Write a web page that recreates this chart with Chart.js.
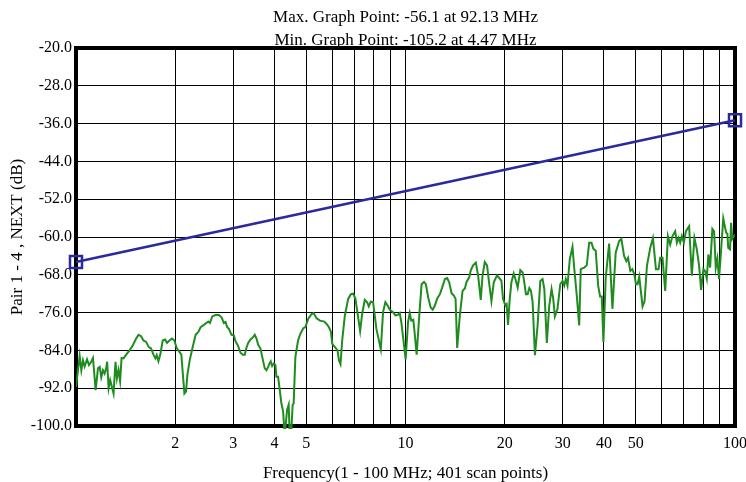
<!DOCTYPE html>
<html>
<head>
<meta charset="utf-8">
<script src="https://cdn.jsdelivr.net/npm/chart.js@4.4.1/dist/chart.umd.min.js"></script>
<style>
  body { margin: 0; background: #ffffff; }
  #plot { display: block; }
</style>
</head>
<body>
<canvas id="plot" width="746" height="482"></canvas>
<script>
const titleLines = [
  "Max. Graph Point: -56.1 at 92.13 MHz",
  "Min. Graph Point: -105.2 at 4.47 MHz",
];
const xTitle = "Frequency(1 - 100 MHz; 401 scan points)";
const yTitle = "Pair 1 - 4 , NEXT (dB)";

// Grid positions on the log axis and which of them get a label
const freqGrid = [1, 2, 3, 4, 5, 6, 7, 8, 9, 10, 20, 30, 40, 50, 60, 70, 80, 90, 100];
const freqLabels = [2, 3, 4, 5, 10, 20, 30, 40, 50, 100];

// Limit line (blue)
const limitFreq = [1, 100];
const limitDb = [-65.3, -35.3];

const measFreq = [
  1.0, 1.026, 1.038, 1.050, 1.062, 1.080, 1.095, 1.112, 1.126, 1.147,
  1.166, 1.180, 1.193, 1.207, 1.221, 1.235, 1.243, 1.256, 1.270, 1.285,
  1.300, 1.318, 1.331, 1.346, 1.361, 1.375, 1.394, 1.420, 1.454, 1.488,
  1.522, 1.548, 1.576, 1.602, 1.632, 1.663, 1.690, 1.718, 1.742, 1.758,
  1.779, 1.804, 1.833, 1.863, 1.889, 1.921, 1.956, 1.989, 2.021, 2.060,
  2.088, 2.107, 2.133, 2.157, 2.178, 2.213, 2.255, 2.307, 2.351, 2.389,
  2.444, 2.486, 2.520, 2.549, 2.592, 2.652, 2.714, 2.766, 2.810, 2.844,
  2.877, 2.909, 2.965, 3.013, 3.049, 3.098, 3.157, 3.208, 3.253, 3.285,
  3.331, 3.385, 3.450, 3.488, 3.530, 3.572, 3.630, 3.688, 3.740, 3.784,
  3.830, 3.864, 3.899, 3.938, 3.981, 4.028, 4.057, 4.105, 4.142, 4.201,
  4.251, 4.299, 4.371, 4.420, 4.47, 4.545, 4.577, 4.632, 4.719, 4.795,
  4.897, 4.965, 5.070, 5.188, 5.260, 5.372, 5.501, 5.669, 5.761, 5.857,
  5.940, 5.994, 6.107, 6.218, 6.280, 6.349, 6.425, 6.546, 6.699, 6.826,
  6.936, 7.048, 7.183, 7.283, 7.385, 7.525, 7.646, 7.738, 7.846, 7.973,
  8.159, 8.414, 8.549, 8.688, 8.809, 8.959, 9.167, 9.314, 9.472, 9.605,
  9.712, 9.896, 10.01, 10.18, 10.30, 10.41, 10.56, 10.65, 10.81, 11.01,
  11.19, 11.38, 11.53, 11.72, 11.92, 12.09, 12.28, 12.48, 12.72, 12.92,
  13.17, 13.38, 13.57, 13.80, 14.02, 14.19, 14.35, 14.62, 14.90, 15.14,
  15.32, 15.60, 15.79, 16.04, 16.35, 16.61, 16.92, 17.13, 17.40, 17.68,
  17.93, 18.23, 18.53, 18.96, 19.32, 19.55, 19.77, 20.10, 20.28, 20.47,
  20.72, 20.96, 21.30, 21.60, 21.90, 22.31, 22.68, 22.94, 23.20, 23.48,
  23.76, 24.03, 24.31, 24.71, 25.17, 25.65, 26.06, 26.38, 26.85, 27.31,
  27.75, 28.08, 28.40, 28.93, 29.49, 29.96, 30.32, 30.65, 31.02, 31.52,
  32.12, 32.51, 33.10, 33.66, 34.03, 34.85, 35.49, 36.09, 36.67, 37.18,
  37.79, 38.43, 38.96, 39.41, 39.87, 40.52, 41.49, 42.46, 43.44, 44.48,
  45.20, 46.06, 46.80, 47.36, 48.12, 48.80, 49.48, 50.06, 50.62, 51.22,
  52.41, 53.15, 54.04, 55.30, 56.36, 57.55, 58.61, 59.30, 60.26, 61.40,
  62.57, 63.58, 64.61, 65.84, 66.62, 67.36, 68.17, 68.98, 69.95, 70.93,
  72.58, 73.96, 75.30, 76.57, 77.82, 78.91, 80.18, 81.13, 82.11, 83.02,
  84.02, 85.37, 86.40, 87.42, 88.41, 89.46, 92.13, 93.3, 94.0, 94.8,
  95.4, 96.6, 97.3, 98.1, 99.5, 100,
];
const measDb = [
  -91.7, -85.2, -88.2, -86.1, -87.4, -85.9, -87.1, -86.4, -85.6, -92.4,
  -87.8, -87.5, -89.7, -88.2, -88.9, -87.8, -86.4, -92.0, -90.3, -91.7,
  -93.1, -86.4, -89.9, -88.2, -90.5, -85.6, -85.7, -84.9, -84.0, -82.9,
  -81.5, -80.7, -81.0, -81.9, -82.2, -83.3, -83.6, -84.9, -85.7, -85.0,
  -86.3, -84.7, -81.9, -81.7, -82.4, -81.9, -81.5, -81.9, -83.5, -84.3,
  -84.9, -88.5, -93.1, -92.7, -89.2, -86.1, -83.6, -80.7, -80.1, -79.1,
  -78.6, -78.2, -77.9, -78.2, -76.8, -76.5, -76.5, -77.0, -78.2, -78.0,
  -79.1, -79.4, -80.7, -80.8, -82.1, -82.9, -84.5, -84.9, -84.9, -83.6,
  -82.4, -81.7, -81.2, -80.7, -81.5, -82.8, -83.6, -85.9, -87.8, -88.2,
  -87.5, -86.8, -86.3, -87.3, -86.8, -87.1, -89.6, -89.6, -91.7, -95.2,
  -96.9, -102.0, -96.6, -95.5, -105.2, -95.5, -95.2, -85.4, -81.9, -80.5,
  -79.3, -79.1, -77.3, -76.3, -76.1, -77.2, -77.7, -77.9, -78.4, -79.1,
  -80.1, -82.6, -83.3, -84.0, -86.1, -86.9, -81.9, -76.6, -73.1, -72.1,
  -72.0, -73.1, -77.0, -79.9, -76.3, -73.3, -73.8, -74.7, -73.7, -73.8,
  -79.4, -83.8, -75.9, -73.8, -74.4, -75.4, -75.9, -76.6, -76.5, -76.1,
  -78.0, -82.9, -85.9, -78.0, -76.1, -77.7, -77.5, -80.0, -84.9, -76.6,
  -70.0, -69.5, -70.0, -72.8, -74.9, -75.4, -74.5, -73.0, -72.1, -70.7,
  -68.9, -68.7, -69.6, -71.9, -72.4, -73.1, -83.5, -76.6, -71.4, -70.9,
  -69.5, -68.6, -67.0, -66.0, -65.4, -68.1, -73.3, -68.2, -65.3, -66.0,
  -69.6, -73.6, -69.6, -68.1, -68.8, -69.3, -73.1, -74.5, -74.2, -78.6,
  -73.1, -69.6, -67.7, -69.1, -70.7, -67.0, -67.5, -69.6, -72.1, -72.1,
  -70.8, -71.4, -73.8, -85.0, -78.7, -69.3, -68.9, -71.0, -82.4, -74.5,
  -71.0, -73.1, -76.8, -75.2, -70.0, -69.3, -70.3, -68.9, -70.3, -64.7,
  -62.1, -66.5, -72.4, -78.7, -66.8, -66.5, -66.0, -61.2, -61.2, -62.5,
  -62.9, -70.3, -72.6, -72.6, -82.2, -68.6, -61.4, -75.2, -63.3, -60.9,
  -60.4, -64.0, -65.1, -64.4, -67.2, -66.8, -67.9, -70.0, -70.0, -68.4,
  -74.7, -73.6, -66.1, -62.3, -60.2, -66.8, -66.8, -64.4, -64.4, -71.4,
  -59.8, -61.6, -59.8, -58.8, -61.2, -60.2, -61.2, -59.8, -61.2, -58.8,
  -57.7, -68.2, -60.2, -62.6, -66.1, -71.2, -66.8, -67.2, -68.8, -63.7,
  -66.5, -58.3, -58.8, -66.5, -64.6, -68.9, -56.1, -58.0, -59.1, -59.3,
  -62.3, -62.6, -57.0, -60.4, -59.7, -59.5,
];

const FONT = "'Liberation Serif', 'Times New Roman', serif";

// Thick black frame round the plot area, drawn over the grid
const plotFrame = {
  id: "plotFrame",
  beforeDatasetsDraw(chart) {
    const { ctx, chartArea: a } = chart;
    ctx.save();
    ctx.strokeStyle = "#000000";
    ctx.lineWidth = 4;
    ctx.strokeRect(a.left, a.top, a.right - a.left, a.bottom - a.top);
    ctx.restore();
  },
};

new Chart(document.getElementById("plot"), {
  type: "line",
  plugins: [plotFrame],
  data: {
    datasets: [
      {
        label: "Limit",
        data: limitFreq.map((f, i) => ({ x: f, y: limitDb[i] })),
        borderColor: "#2a2a9e",
        borderWidth: 2.5,
        pointStyle: "rect",
        pointRadius: 8.5,
        pointBorderWidth: 2.5,
        pointBorderColor: "#2a2a9e",
        pointBackgroundColor: "rgba(0,0,0,0)",
        tension: 0,
        clip: false,
      },
      {
        label: "NEXT",
        data: measFreq.map((f, i) => ({ x: f, y: measDb[i] })),
        borderColor: "#1e8c1e",
        borderWidth: 2,
        pointRadius: 0,
        tension: 0,
        clip: { left: 0, top: 0, right: 0, bottom: 3 },
      },
    ],
  },
  options: {
    responsive: false,
    animation: false,
    layout: { padding: 0 },
    plugins: {
      legend: { display: false },
      tooltip: { enabled: false },
      title: {
        display: true,
        fullSize: false,
        text: titleLines,
        color: "#000000",
        font: { family: FONT, size: 17, weight: "normal", lineHeight: 1.353 },
        padding: { top: 6.5, bottom: -4.5 },
      },
    },
    scales: {
      x: {
        type: "logarithmic",
        min: 1,
        max: 100,
        afterBuildTicks: (scale) => {
          scale.ticks = freqGrid.map((v) => ({ value: v }));
        },
        afterFit: (scale) => {
          scale.height = 56;
          // room on the right only for half of the "100" label
          scale.paddingLeft = 0;
          scale.paddingRight = 11;
        },
        grid: { color: "#000000", lineWidth: 1, drawTicks: false },
        border: { display: false },
        ticks: {
          autoSkip: false,
          maxRotation: 0,
          padding: 8,
          color: "#000000",
          font: { family: FONT, size: 16 },
          callback: (v) => (freqLabels.includes(v) ? String(v) : ""),
        },
        title: {
          display: true,
          text: xTitle,
          color: "#000000",
          font: { family: FONT, size: 17 },
          padding: { top: 0, bottom: -2.2 },
        },
      },
      y: {
        min: -100,
        max: -20,
        afterFit: (scale) => {
          scale.width = 76;
        },
        grid: { color: "#000000", lineWidth: 1, drawTicks: false },
        border: { display: false },
        ticks: {
          stepSize: 8,
          padding: 4,
          color: "#000000",
          font: { family: FONT, size: 16 },
          callback: (v) => v.toFixed(1),
        },
        title: {
          display: true,
          text: yTitle,
          color: "#000000",
          font: { family: FONT, size: 17 },
          padding: { top: 7.8, bottom: 0 },
        },
      },
    },
  },
});
</script>
</body>
</html>
